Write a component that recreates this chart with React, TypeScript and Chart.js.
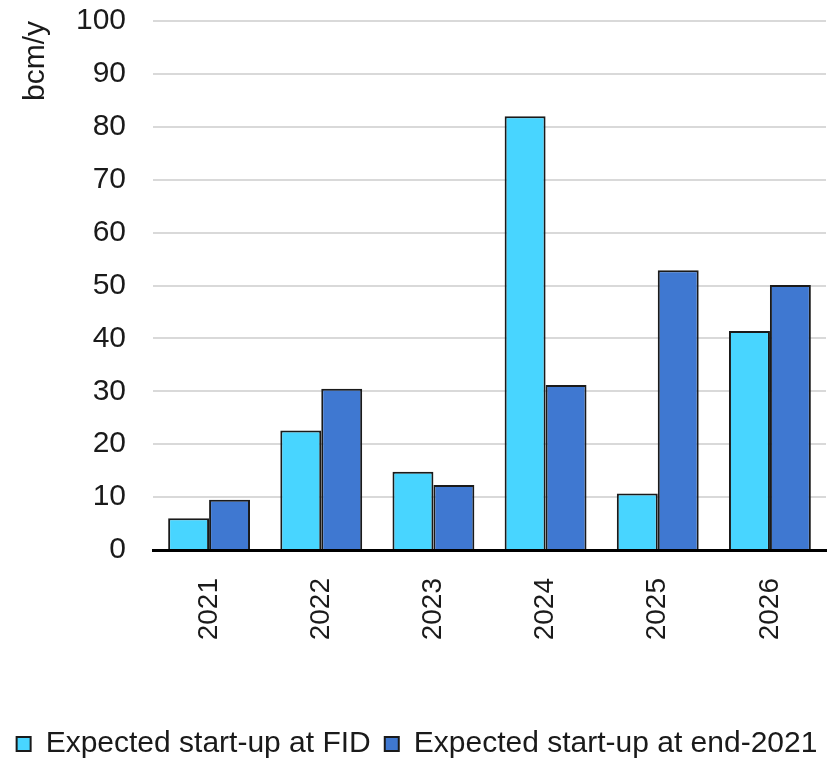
import React, { useEffect, useRef } from "react";
import { Chart, registerables } from "chart.js";

Chart.register(...registerables);

const categories = ["2021", "2022", "2023", "2024", "2025", "2026"];
const seriesNames = ["Expected start-up at FID", "Expected start-up at end-2021"];
const fidValues = [6, 22.6, 14.8, 82, 10.7, 41.4];
const end2021Values = [9.5, 30.5, 12.3, 31.2, 52.9, 50.1];
const yTicks = [0, 10, 20, 30, 40, 50, 60, 70, 80, 90, 100];
const yTitle = "bcm/y";

const FONT = "'Liberation Sans', Arial, sans-serif";

export default function App() {
  const ref = useRef<HTMLCanvasElement | null>(null);

  useEffect(() => {
    if (!ref.current) return;
    const chart = new Chart(ref.current, {
      type: "bar",
      data: {
        labels: categories,
        datasets: [
          {
            label: seriesNames[0],
            data: fidValues,
            backgroundColor: "#48D5FF",
            borderColor: "#1a1a1a",
            borderWidth: 2,
            categoryPercentage: 0.73,
            barPercentage: 1,
          },
          {
            label: seriesNames[1],
            data: end2021Values,
            backgroundColor: "#3F78D1",
            borderColor: "#1a1a1a",
            borderWidth: 2,
            categoryPercentage: 0.73,
            barPercentage: 1,
          },
        ],
      },
      options: {
        responsive: false,
        animation: false,
        layout: { padding: { top: 21, left: 0, right: 0, bottom: -9 } },
        plugins: {
          tooltip: { enabled: false },
          legend: {
            position: "bottom",
            labels: {
              font: { family: FONT, size: 30 },
              color: "#1a1a1a",
              boxWidth: 14,
              boxHeight: 14,
              padding: 14,
            },
          },
        },
        scales: {
          x: {
            grid: { display: false, drawTicks: false },
            border: { display: true, color: "#000", width: 3 },
            ticks: {
              font: { family: FONT, size: 28 },
              color: "#1a1a1a",
              maxRotation: 90,
              minRotation: 90,
              autoSkip: false,
              padding: 28,
            },
            afterFit: (scale: any) => {
              scale.height = 165;
              scale.paddingRight = 8;
              scale.paddingLeft = 0;
            },
          },
          y: {
            min: 0,
            max: 100,
            afterBuildTicks: (scale: any) => {
              scale.ticks = yTicks.map((v) => ({ value: v }));
            },
            grid: {
              drawTicks: false,
              color: (ctx: any) => (ctx.tick && ctx.tick.value === 0 ? "rgba(0,0,0,0)" : "#d9d9d9"),
              lineWidth: 2,
            },
            border: { display: false },
            ticks: {
              font: { family: FONT, size: 30 },
              color: "#1a1a1a",
              padding: 27,
            },
            title: {
              display: true,
              text: yTitle,
              align: "end",
              font: { family: FONT, size: 30 },
              color: "#1a1a1a",
              padding: { top: 18, bottom: 0 },
            },
            afterFit: (scale: any) => {
              scale.width = 153;
              scale.paddingTop = 0;
              scale.paddingBottom = 0;
            },
          },
        },
      },
    });
    return () => chart.destroy();
  }, []);

  return (
    <div style={{ position: "absolute", left: 0, top: 0, width: 834, height: 760, background: "#fff" }}>
      <canvas ref={ref} width={834} height={760} style={{ display: "block" }} />
    </div>
  );
}
